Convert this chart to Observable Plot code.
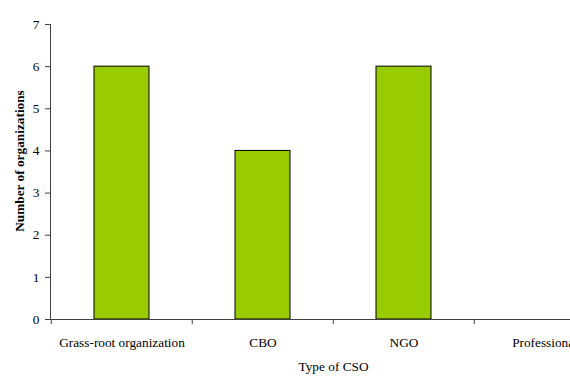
<!DOCTYPE html>
<html>
<head>
<meta charset="utf-8">
<script src="https://cdn.jsdelivr.net/npm/d3@7"></script>
<script src="https://cdn.jsdelivr.net/npm/@observablehq/plot@0.6"></script>
<style>
  html, body { margin: 0; padding: 0; background: #fff; }
  #chart svg { display: block; }
</style>
</head>
<body>
<div id="chart"></div>
<script>
// Number of civil society organisations by type
const categories = ["Grass-root organization", "CBO", "NGO", "Professional"];
const counts = [6, 4, 6, 0];
const yTicks = [0, 1, 2, 3, 4, 5, 6, 7];
const xTitle = "Type of CSO";
const yTitle = "Number of organizations";

const data = categories.map((type, i) => ({type, count: counts[i]}));

const font = "'Liberation Serif', 'Times New Roman', serif";
const axisColor = "#404040";
const width = 570, height = 376;
const marginLeft = 50, marginTop = 24, marginBottom = 57;
// the plotting area runs past the right edge, so the last category is cut off
const marginRight = -46;
const step = (width - marginRight - marginLeft) / categories.length;

const chart = Plot.plot({
  width, height, marginLeft, marginRight, marginTop, marginBottom,
  style: {fontFamily: font, fontSize: "13.3px", color: "#000", background: "#fff", overflow: "hidden"},
  x: {domain: categories, paddingInner: 0.61, paddingOuter: 0.305, label: null},
  y: {domain: [0, 7], label: null},
  marks: [
    Plot.barY(data, {x: "type", y: "count", fill: "#99CC00", stroke: "#000", strokeWidth: 1}),
    // axis lines
    Plot.frame({anchor: "left", stroke: axisColor}),
    Plot.ruleY([0], {stroke: axisColor}),
    Plot.axisY({ticks: yTicks, tickFormat: "d", tickSize: 5, tickPadding: 6, stroke: axisColor, fill: "#000", label: null}),
    // category labels under each band
    Plot.axisX({tickSize: 0, tickPadding: 18, label: null, fill: "#000"}),
    // tick marks sit on the boundaries between categories
    Plot.axisX({tickSize: 5, dx: -step / 2, tickFormat: () => "", stroke: axisColor, label: null}),
    Plot.text([xTitle], {frameAnchor: "bottom", dy: 51, fontSize: 13.3, fill: "#000"}),
    Plot.text([yTitle], {frameAnchor: "left", textAnchor: "middle", rotate: -90, dx: -31, dy: -11, fontSize: 13.3, fontWeight: "bold", fill: "#000"})
  ]
});

document.getElementById("chart").appendChild(chart);
</script>
</body>
</html>
